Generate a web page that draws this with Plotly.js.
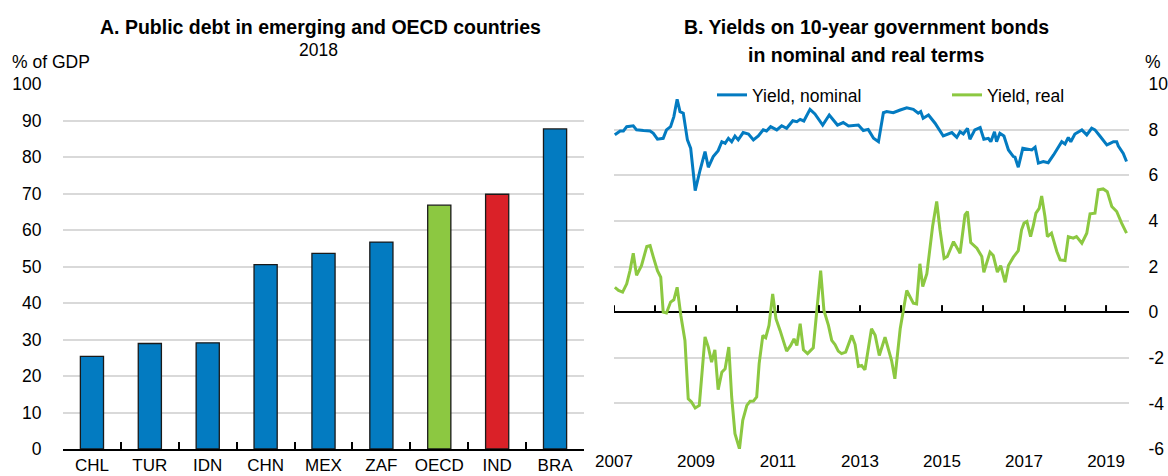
<!DOCTYPE html>
<html>
<head>
<meta charset="utf-8">
<script src="https://cdn.plot.ly/plotly-3.0.1.min.js"></script>
<style>
html,body{margin:0;padding:0;background:#fff;}
#chart{width:1168px;height:476px;}
</style>
</head>
<body>
<div id="chart"></div>
<script>
// ---------- Panel A data ----------
const countries = ['CHL','TUR','IDN','CHN','MEX','ZAF','OECD','IND','BRA'];
const debtPctGdp = [25.4, 28.9, 29.1, 50.5, 53.6, 56.7, 66.8, 69.8, 87.7];

// ---------- Panel B data (decimal years, % yields) ----------
const nominalTime = [2007.02,2007.15,2007.23,2007.31,2007.47,2007.55,2007.72,2007.88,2007.96,
  2008.06,2008.20,2008.28,2008.38,2008.46,2008.54,2008.61,2008.69,2008.79,2008.87,2008.98,
  2009.10,2009.22,2009.30,2009.42,2009.54,2009.63,2009.71,2009.79,2009.87,2009.95,
  2010.03,2010.15,2010.28,2010.40,2010.52,2010.64,2010.72,2010.82,2010.97,
  2011.09,2011.21,2011.36,2011.46,2011.54,2011.63,2011.78,2011.90,
  2012.09,2012.25,2012.45,2012.59,2012.72,2012.96,
  2013.08,2013.20,2013.33,2013.45,2013.57,2013.65,2013.81,2013.98,
  2014.14,2014.30,2014.42,2014.48,2014.54,2014.67,2014.83,
  2015.03,2015.24,2015.36,2015.44,2015.52,2015.62,2015.68,2015.80,2015.93,
  2016.02,2016.13,2016.19,2016.28,2016.33,2016.41,2016.51,2016.62,2016.74,2016.78,2016.86,2016.97,
  2017.11,2017.19,2017.27,2017.35,2017.47,2017.59,2017.72,2017.84,2017.92,
  2018.00,2018.08,2018.14,2018.24,2018.41,2018.53,2018.65,2018.73,2018.85,
  2019.02,2019.10,2019.18,2019.26,2019.30,2019.42,2019.50];
const nominalYield = [7.77,7.94,7.94,8.13,8.17,7.99,7.96,7.94,7.84,
  7.58,7.62,7.99,8.13,8.57,9.33,8.79,8.72,7.55,7.18,5.33,
  6.23,7.04,6.35,6.82,7.08,7.47,7.40,7.62,7.47,7.72,
  7.55,7.87,7.81,7.55,7.72,7.99,7.94,8.13,7.99,
  8.17,8.06,8.39,8.35,8.45,8.38,8.89,8.69,
  8.20,8.64,8.20,8.31,8.16,8.20,
  7.96,8.01,7.62,7.47,8.74,8.79,8.74,8.86,
  8.96,8.89,8.72,8.79,8.50,8.64,8.28,
  7.72,7.87,7.66,7.91,7.81,8.06,7.58,7.99,8.09,
  7.58,7.62,7.47,7.91,7.47,7.84,7.72,7.11,6.82,6.79,6.35,7.18,
  7.14,7.11,7.23,6.53,6.60,6.55,6.89,7.23,7.47,
  7.37,7.66,7.47,7.81,7.99,7.77,8.06,7.99,7.72,
  7.33,7.40,7.47,7.47,7.28,6.96,6.60];

const realTime = [2007.02,2007.11,2007.21,2007.31,2007.39,2007.47,2007.55,2007.67,2007.80,2007.88,2007.96,
  2008.06,2008.14,2008.20,2008.28,2008.38,2008.46,2008.54,2008.63,2008.73,2008.81,2008.89,2008.98,
  2009.08,2009.22,2009.30,2009.38,2009.46,2009.54,2009.63,2009.71,2009.80,2009.87,2009.95,
  2010.06,2010.14,2010.24,2010.32,2010.40,2010.48,2010.54,2010.63,2010.70,2010.78,2010.87,2010.95,
  2011.05,2011.13,2011.21,2011.31,2011.39,2011.46,2011.54,2011.62,2011.72,2011.86,2011.96,
  2012.04,2012.12,2012.23,2012.31,2012.39,2012.47,2012.55,2012.65,2012.80,2012.88,2012.96,
  2013.04,2013.12,2013.28,2013.37,2013.47,2013.61,2013.77,2013.85,2013.98,
  2014.06,2014.14,2014.30,2014.38,2014.46,2014.53,2014.63,2014.71,2014.77,2014.87,2014.95,
  2015.05,2015.13,2015.28,2015.44,2015.56,2015.62,2015.70,2015.85,2015.97,
  2016.02,2016.17,2016.25,2016.35,2016.43,2016.54,2016.62,2016.74,2016.86,2016.94,
  2017.00,2017.07,2017.16,2017.23,2017.29,2017.37,2017.43,2017.51,2017.57,2017.67,2017.80,2017.88,
  2018.00,2018.08,2018.20,2018.28,2018.41,2018.53,2018.61,2018.73,2018.81,2018.93,
  2019.03,2019.14,2019.26,2019.38,2019.50];
const realYield = [1.09,0.95,0.88,1.24,1.82,2.58,1.61,2.04,2.88,2.92,2.41,
  1.82,1.53,0.00,-0.04,0.44,0.54,1.09,-0.15,-1.24,-3.80,-3.94,-4.20,
  -4.09,-1.09,-1.53,-2.19,-1.65,-3.40,-2.63,-2.48,-1.53,-3.72,-5.33,
  -5.99,-4.74,-4.09,-3.91,-3.90,-3.72,-2.26,-1.02,-1.12,-0.58,0.80,-0.29,
  -0.80,-1.24,-1.71,-1.46,-1.17,-1.46,-0.51,-1.65,-1.82,-1.56,0.22,
  1.82,0.07,-0.58,-1.24,-1.42,-1.71,-1.82,-1.75,-1.02,-1.42,-2.38,
  -2.34,-2.53,-0.73,-1.02,-1.90,-1.10,-2.12,-2.92,-0.73,
  0.22,0.95,0.39,0.36,2.12,1.12,1.68,2.85,3.75,4.85,3.61,
  2.36,2.44,3.09,2.58,4.26,4.41,3.05,2.80,2.44,
  1.75,2.63,2.48,1.75,2.04,1.31,2.04,2.41,2.70,3.61,
  3.90,3.97,3.31,3.82,4.34,4.55,5.09,4.19,3.31,3.46,2.66,2.29,
  2.26,3.31,3.24,3.31,3.02,3.46,4.31,4.34,5.36,5.40,
  5.28,4.63,4.41,3.90,3.46];

const yearTicks = [2007,2008,2009,2010,2011,2012,2013,2014,2015,2016,2017,2018,2019];
const labelYears = [2007,2009,2011,2013,2015,2017,2019];
const yieldTickVals = [-6,-4,-2,0,2,4,6,8,10];
const yieldTickText = ['-6','-4','-2','0','2','4','6','8','10'];

// ---------- styling ----------
const W = 1168, H = 476;
const px = v => v / W;
const py = v => 1 - v / H;
const LBL = '"Liberation Sans Narrow","Arial Narrow","Liberation Sans",Arial,sans-serif';
const SANS = '"Liberation Sans",Arial,sans-serif';
const FS = 17.5;
const BLUE = '#037bc1', GREEN = '#8cc841', RED = '#da2128';
const GRID = '#d9d9d9';
const barColors = countries.map(c => c === 'OECD' ? GREEN : (c === 'IND' ? RED : BLUE));

const traces = [
  {type:'bar', x:countries, y:debtPctGdp, xaxis:'x', yaxis:'y', showlegend:false,
   marker:{color:barColors, line:{color:'#1a1a1a', width:1.3}}, hoverinfo:'x+y'},
  {type:'scatter', mode:'lines', x:nominalTime, y:nominalYield, xaxis:'x2', yaxis:'y2',
   name:'Yield, nominal', line:{color:BLUE, width:3}},
  {type:'scatter', mode:'lines', x:realTime, y:realYield, xaxis:'x2', yaxis:'y2',
   name:'Yield, real', line:{color:GREEN, width:3}}
];

const tickShapes = yearTicks.map(yr => ({
  type:'line', xref:'x2', yref:'y2', ysizemode:'pixel', yanchor:0,
  x0:yr, x1:yr, y0:0, y1:7, line:{color:'#000', width:2}, layer:'above'
}));

const layout = {
  width:W, height:H, margin:{l:0,r:0,t:0,b:0, autoexpand:false},
  paper_bgcolor:'#fff', plot_bgcolor:'#fff',
  font:{family:LBL, size:FS, color:'#000'},
  bargap:0.6,
  showlegend:true,
  legend:{orientation:'h', x:px(712), xanchor:'left', y:py(77), yanchor:'top',
          bgcolor:'rgba(0,0,0,0)', font:{family:LBL, size:FS, color:'#000'},
          entrywidth:190, entrywidthmode:'pixels', traceorder:'normal'},
  xaxis:{domain:[px(63), px(584)], anchor:'y', type:'category', tickangle:0,
         showline:true, linecolor:'#000', linewidth:2,
         ticks:'inside', tickson:'boundaries', ticklen:7, tickwidth:2, tickcolor:'#000',
         showgrid:false, zeroline:false, ticklabelstandoff:0,
         tickfont:{family:LBL, size:17, color:'#000'}},
  yaxis:{domain:[py(449), py(84)], anchor:'x', range:[0,100], dtick:10,
         showgrid:true, gridcolor:GRID, gridwidth:2, zeroline:false, showline:false,
         ticks:'outside', ticklen:17, tickcolor:'rgba(0,0,0,0)',
         tickfont:{family:LBL, size:FS, color:'#000'}},
  xaxis2:{domain:[px(614), px(1129)], anchor:'y2', range:[2007, 2019.56],
          tickmode:'array', tickvals:labelYears, ticktext:labelYears.map(String), tickangle:0,
          showgrid:false, zeroline:false, showline:false, ticks:'', ticklabelstandoff:0,
          tickfont:{family:LBL, size:17, color:'#000'}},
  yaxis2:{domain:[py(449), py(84)], anchor:'x2', side:'right', range:[-6,10],
          tickmode:'array', tickvals:yieldTickVals, ticktext:yieldTickText,
          showgrid:true, gridcolor:GRID, gridwidth:2,
          zeroline:true, zerolinecolor:'#000', zerolinewidth:2, showline:false,
          ticks:'outside', ticklen:15, tickcolor:'rgba(0,0,0,0)',
          tickfont:{family:LBL, size:FS, color:'#000'}},
  shapes:tickShapes,
  annotations:[
    {text:'<b>A. Public debt in emerging and OECD countries</b>', xref:'paper', yref:'paper',
     x:px(320), y:py(27), xanchor:'center', yanchor:'middle', showarrow:false,
     font:{family:SANS, size:19.5, color:'#000'}},
    {text:'2018', xref:'paper', yref:'paper', x:px(318), y:py(50), xanchor:'center', yanchor:'middle',
     showarrow:false, font:{family:LBL, size:FS, color:'#000'}},
    {text:'% of GDP', xref:'paper', yref:'paper', x:px(10), y:py(62), xanchor:'left', yanchor:'middle',
     showarrow:false, font:{family:LBL, size:FS, color:'#000'}},
    {text:'<b>B. Yields on 10-year government bonds</b>', xref:'paper', yref:'paper',
     x:px(866), y:py(27), xanchor:'center', yanchor:'middle', showarrow:false,
     font:{family:SANS, size:19.5, color:'#000'}},
    {text:'<b>in nominal and real terms</b>', xref:'paper', yref:'paper',
     x:px(866), y:py(55), xanchor:'center', yanchor:'middle', showarrow:false,
     font:{family:SANS, size:19.5, color:'#000'}},
    {text:'%', xref:'paper', yref:'paper', x:px(1143), y:py(62), xanchor:'left', yanchor:'middle',
     showarrow:false, font:{family:LBL, size:FS, color:'#000'}}
  ]
};

Plotly.newPlot('chart', traces, layout, {displayModeBar:false, staticPlot:true});
</script>
</body>
</html>
